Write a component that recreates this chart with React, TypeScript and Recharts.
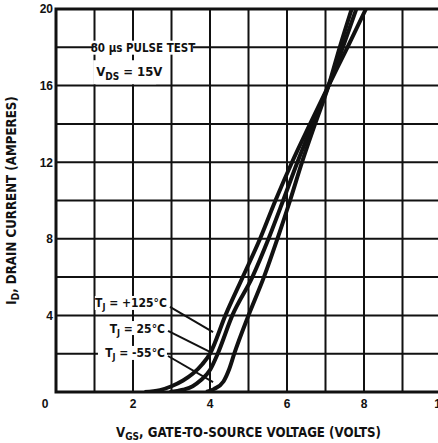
import React from 'react';
import {
  LineChart,
  Line,
  XAxis,
  YAxis,
  CartesianGrid,
  ReferenceLine,
  ReferenceDot,
  ReferenceArea,
  Label,
} from 'recharts';

// ---- axes ----
const xTicks = [0, 1, 2, 3, 4, 5, 6, 7, 8, 9, 10];
const xTickLabels = ['0', '', '2', '', '4', '', '6', '', '8', '', '10'];
const yTicks = [0, 2, 4, 6, 8, 10, 12, 14, 16, 18, 20];
const yTickLabels = ['', '', '4', '', '8', '', '12', '', '16', '', '20'];

// ---- series: V_GS (volts) vs I_D (amperes) ----
const vgs125 = [2.3, 2.7, 3.0, 3.3, 3.55, 3.8, 4.0, 4.4, 4.85, 5.3, 5.7, 6.13, 6.6, 7.08, 7.57, 8.05];
const id125 = [0, 0.1, 0.3, 0.6, 0.95, 1.45, 2.0, 4, 6, 8, 10, 12, 14, 16, 18, 20];

const vgs25 = [2.95, 3.3, 3.55, 3.75, 4.0, 4.2, 4.58, 5.1, 5.52, 5.9, 6.27, 6.67, 7.08, 7.45, 7.8];
const id25 = [0, 0.12, 0.3, 0.6, 1.15, 2.0, 4, 6, 8, 10, 12, 14, 16, 18, 20];

const vgsM55 = [3.9, 4.1, 4.35, 4.5, 4.63, 5.0, 5.4, 5.75, 6.08, 6.39, 6.73, 7.08, 7.37, 7.68];
const idM55 = [0, 0.15, 0.55, 1.2, 2.0, 4, 6, 8, 10, 12, 14, 16, 18, 20];

const toPoints = (v: number[], i: number[]) => v.map((x, k) => ({ v: x, id: i[k] }));
const series = [
  { name: '+125°C', data: toPoints(vgs125, id125) },
  { name: '25°C', data: toPoints(vgs25, id25) },
  { name: '-55°C', data: toPoints(vgsM55, idM55) },
];

// ---- annotations (data coordinates) ----
const tempText = [' = +125°C', ' = 25°C', ' = -55°C'];
const tempLabelV = [2.88, 2.83, 2.83];
const tempLabelI = [4.65, 3.34, 2.04];
const leaderFromV = [2.96, 2.91, 2.91];
const leaderFromI = [4.44, 3.19, 1.88];
const leaderToV = [4.08, 4.05, 4.08];
const leaderToI = [3.13, 2.04, 0.52];

const pulseText = '80 µs PULSE TEST';
const pulsePos = { v: 2.26, i: 17.98 };
const vdsText = ' = 15V';
const vdsPos = { v: 1.77, i: 16.75 };

const FONT = "'Liberation Sans Narrow', 'Arial Narrow', 'DejaVu Sans Condensed', sans-serif";
const DIGIT_FONT = "'Liberation Sans', Arial, sans-serif";

const XTick = (props: any) => {
  const { x, y, index } = props;
  const label = xTickLabels[index];
  if (!label) return null;
  const dx = index === 0 ? -11 : 0;
  return (
    <text x={x + dx} y={y + 15.5} textAnchor="middle" fontFamily={DIGIT_FONT} fontWeight="bold" fontSize={12} fill="#111">
      {label}
    </text>
  );
};

const YTick = (props: any) => {
  const { x, y, index } = props;
  const label = yTickLabels[index];
  if (!label) return null;
  return (
    <text x={x - 3} y={y + 4.3} textAnchor="end" fontFamily={DIGIT_FONT} fontWeight="bold" fontSize={12} fill="#111">
      {label}
    </text>
  );
};

const XTitle = (props: any) => {
  const vb = props.viewBox || { x: 56, y: 392, width: 385, height: 51 };
  const cx = vb.x + vb.width / 2;
  return (
    <text x={cx} y={vb.y + 45} textAnchor="middle" fontFamily={FONT} fontWeight="bold" fontSize={13.2} fill="#111">
      V<tspan fontSize={10} dy={3}>GS</tspan>
      <tspan dy={-3}>, GATE-TO-SOURCE VOLTAGE (VOLTS)</tspan>
    </text>
  );
};

const YTitle = (props: any) => {
  const vb = props.viewBox || { x: 0, y: 9, width: 56, height: 383 };
  const cy = vb.y + vb.height / 2;
  const x = 16;
  return (
    <text
      x={x}
      y={cy}
      transform={`rotate(-90 ${x} ${cy})`}
      textAnchor="middle"
      fontFamily={FONT}
      fontWeight="bold"
      fontSize={13.2}
      fill="#111"
    >
      I<tspan fontSize={10} dy={3}>D</tspan>
      <tspan dy={-3}>, DRAIN CURRENT (AMPERES)</tspan>
    </text>
  );
};

const tempBoxWidths = [72, 57, 67];

const makeTempShape = (k: number) => (props: any) => {
  const { cx, cy } = props;
  const w = tempBoxWidths[k];
  return (
    <g>
      <rect x={cx - w} y={cy - 7} width={w + 2} height={14} fill="#fff" />
      <text x={cx} y={cy + 4.5} textAnchor="end" fontFamily={FONT} fontWeight="bold" fontSize={12} fill="#111">
        T<tspan fontSize={9} dy={3}>J</tspan>
        <tspan dy={-3}>{tempText[k]}</tspan>
      </text>
    </g>
  );
};

const PulseShape = (props: any) => {
  const { cx, cy } = props;
  return (
    <g>
      <rect x={cx - 50} y={cy - 7} width={100} height={14} fill="#fff" />
      <text x={cx} y={cy + 4.3} textAnchor="middle" fontFamily={FONT} fontWeight="bold" fontSize={11.5} fill="#111">
        {pulseText}
      </text>
    </g>
  );
};

const VdsShape = (props: any) => {
  const { cx, cy } = props;
  return (
    <g>
      <rect x={cx - 31} y={cy - 11} width={63} height={24} fill="#fff" />
      <text x={cx - 28} y={cy + 5} textAnchor="start" fontFamily={FONT} fontWeight="bold" fontSize={13} fill="#111">
        V<tspan fontSize={10} dy={4}>DS</tspan>
        <tspan dy={-4}>{vdsText}</tspan>
      </text>
    </g>
  );
};

export default function App() {
  return (
    <div
      style={{
        position: 'fixed',
        left: 0,
        top: 0,
        width: 438,
        height: 443,
        overflow: 'hidden',
        background: '#fff',
      }}
    >
      <LineChart width={448} height={443} margin={{ top: 9, right: 7, bottom: 0, left: 0 }}>
        <CartesianGrid stroke="#111" strokeWidth={2} strokeOpacity={1} />
        <XAxis
          type="number"
          dataKey="v"
          domain={[0, 10]}
          ticks={xTicks}
          interval={0}
          tickSize={0}
          tickMargin={0}
          axisLine={false}
          tickLine={false}
          tick={(p: any) => <XTick {...p} />}
          height={51}
          allowDataOverflow
        >
          <Label content={XTitle} />
        </XAxis>
        <YAxis
          type="number"
          domain={[0, 20]}
          ticks={yTicks}
          interval={0}
          width={56}
          tickSize={0}
          tickMargin={0}
          axisLine={false}
          tickLine={false}
          tick={(p: any) => <YTick {...p} />}
          allowDataOverflow
        >
          <Label content={YTitle} />
        </YAxis>
        <ReferenceArea x1={0} x2={10} y1={0} y2={20} fill="none" stroke="#111" strokeWidth={3} ifOverflow="visible" />
        {series.map((s) => (
          <Line
            key={s.name}
            name={s.name}
            data={s.data}
            dataKey="id"
            type="monotone"
            stroke="#111"
            strokeWidth={4}
            dot={false}
            activeDot={false}
            isAnimationActive={false}
          />
        ))}
        {tempText.map((t, k) => (
          <ReferenceLine
            key={'lead' + k}
            segment={[
              { x: leaderFromV[k], y: leaderFromI[k] },
              { x: leaderToV[k], y: leaderToI[k] },
            ]}
            stroke="#111"
            strokeWidth={2}
          />
        ))}
        {tempText.map((t, k) => (
          <ReferenceDot key={'lab' + k} x={tempLabelV[k]} y={tempLabelI[k]} r={1} shape={makeTempShape(k)} />
        ))}
        <ReferenceDot x={pulsePos.v} y={pulsePos.i} r={1} shape={PulseShape} />
        <ReferenceDot x={vdsPos.v} y={vdsPos.i} r={1} shape={VdsShape} />
      </LineChart>
    </div>
  );
}
